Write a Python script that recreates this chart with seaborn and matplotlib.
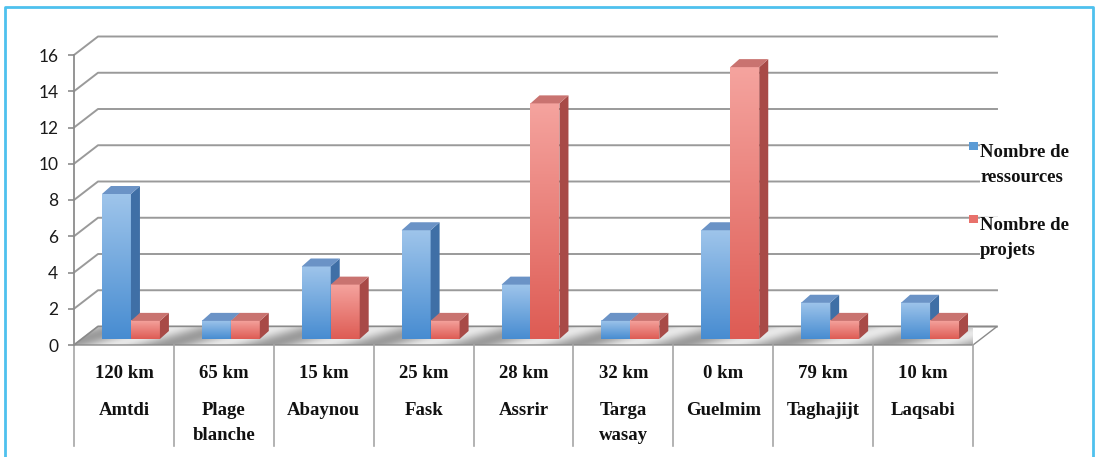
import numpy as np
import pandas as pd
import seaborn as sns
import matplotlib.pyplot as plt
from matplotlib.patches import Polygon, Rectangle
from matplotlib.lines import Line2D
from matplotlib.transforms import Affine2D, IdentityTransform, blended_transform_factory

# data
sites = ["Amtdi", "Plage\nblanche", "Abaynou", "Fask", "Assrir",
         "Targa\nwasay", "Guelmim", "Taghajijt", "Laqsabi"]
distances = ["120 km", "65 km", "15 km", "25 km", "28 km",
             "32 km", "0 km", "79 km", "10 km"]
ressources = [8, 1, 4, 6, 3, 1, 6, 2, 2]
projets = [1, 1, 3, 1, 13, 1, 15, 1, 1]
series = ["Nombre de\nressources", "Nombre de\nprojets"]

df = pd.DataFrame({
    "site": sites * 2,
    "serie": [series[0]] * len(sites) + [series[1]] * len(sites),
    "valeur": ressources + projets,
})

plt.rcParams["font.family"] = "Lato"
serif = "Liberation Serif"

W, H = 1098, 457
fig = plt.figure(figsize=(W / 100, H / 100), dpi=100)
ax = fig.add_axes([74 / W, (H - 345) / H, 899 / W, 290 / H])

sns.barplot(data=df, x="site", y="valeur", hue="serie", palette=["#5b9bd5", "#e8716b"],
            width=0.58, saturation=1, legend=False, errorbar=None, ax=ax)
ax.set_xlim(-0.5, 8.5)
ax.set_ylim(0, 16)
ax.patch.set_visible(False)
ax.set_xlabel("")
ax.set_ylabel("")
ax.set_xticks([])
ax.set_yticks(range(0, 17, 2))
ax.tick_params(axis="y", length=4.3, width=1.2, color="#8c8c8c", pad=7, labelsize=12.5, labelcolor="#1a1a1a")
for s in ["top", "right", "bottom"]:
    ax.spines[s].set_visible(False)
ax.spines["left"].set_color("#8c8c8c")
ax.spines["left"].set_linewidth(1.3)

idt = IdentityTransform()
grey = "#9a9a9a"
back = (24, 18.5)      # depth of the back wall, pixels
shift = (7, 6)         # bars sit in the middle of the depth
depth = (9, 8)         # depth of each bar

# back wall gridlines + diagonals
x_left, _ = ax.transData.transform((-0.5, 0))
x_right, _ = ax.transData.transform((8.5, 0))
for t in range(0, 17, 2):
    _, yt = ax.transData.transform((-0.5, t))
    ax.add_line(Line2D([x_left, x_left + back[0], x_right + back[0]],
                       [yt, yt + back[1], yt + back[1]],
                       transform=idt, color=grey, lw=1.4, zorder=0.5, clip_on=False))

# floor
_, y0 = ax.transData.transform((-0.5, 0))
floor_pts = [(x_left, y0), (x_right, y0), (x_right + back[0], y0 + back[1]), (x_left + back[0], y0 + back[1])]
floor = Polygon(floor_pts, closed=True, transform=idt, fc="none", ec="#8a8a8a", lw=1.0, zorder=1.2, clip_on=False)
gx = np.linspace(0, 1, 500)
gy = np.linspace(0, 1, 20)
GX, GY = np.meshgrid(gx, gy)
shade = 0.76 + 0.15 * np.cos(2 * np.pi * (GX * 9 + GY * 0.6))
floor_img = np.dstack([shade, shade, shade])
img = ax.imshow(floor_img, extent=(x_left, x_right + back[0], y0, y0 + back[1]), transform=idt,
                aspect="auto", zorder=1.1, interpolation="bilinear")
img.set_clip_path(floor)
ax.add_patch(floor)

# 3D look on the seaborn bars
looks = [
    {"top": (0.62, 0.77, 0.92), "bottom": (0.28, 0.55, 0.82), "side": "#3f6fa6", "lid": "#6b93c6"},
    {"top": (0.96, 0.64, 0.62), "bottom": (0.87, 0.36, 0.33), "side": "#a84a47", "lid": "#c97370"},
]
bars = ax.patches[:2 * len(sites)]
for i, p in enumerate(bars):
    look = looks[i // len(sites)]
    z = 3 + i // len(sites)
    x0, w, h = p.get_x(), p.get_width(), p.get_height()
    tr = ax.transData + Affine2D().translate(*shift)
    p.set_transform(tr)
    p.set_zorder(z)
    p.set_clip_on(False)
    p.set_edgecolor("none")
    grad = np.linspace(look["top"], look["bottom"], 64)[:, None, :]
    ax.imshow(grad, extent=(x0, x0 + w, 0, h), transform=tr, aspect="auto",
              zorder=z + 0.05, clip_on=False, interpolation="bilinear")
    xl, yb = tr.transform((x0, 0))
    xr, yt = tr.transform((x0 + w, h))
    dx, dy = depth
    ax.add_patch(Polygon([(xr, yb), (xr + dx, yb + dy), (xr + dx, yt + dy), (xr, yt)], closed=True,
                         transform=idt, fc=look["side"], ec="none", zorder=z + 0.1, clip_on=False))
    ax.add_patch(Polygon([(xl, yt), (xr, yt), (xr + dx, yt + dy), (xl + dx, yt + dy)], closed=True,
                         transform=idt, fc=look["lid"], ec="none", zorder=z + 0.1, clip_on=False))

ax.set_xlim(-0.5, 8.5)
ax.set_ylim(0, 16)

# category table below the floor
for b in np.arange(-0.5, len(sites), 1.0):
    xb, _ = ax.transData.transform((b, 0))
    ax.add_line(Line2D([xb, xb], [H - 345, H - 446], transform=idt, color="#a6a6a6",
                       lw=1.2, clip_on=False))
bt = blended_transform_factory(ax.transData, idt)
for i, (d, s) in enumerate(zip(distances, sites)):
    ax.text(i, H - 378, d, transform=bt, ha="center", va="baseline", fontsize=13.5,
            fontweight="bold", family=serif, color="#111111", clip_on=False)
    ax.text(i, H - 402, s, transform=bt, ha="center", va="top", fontsize=13.5, linespacing=1.63,
            fontweight="bold", family=serif, color="#111111", clip_on=False)

# legend
leg_colors = ["#5b9bd5", "#e8716b"]
for lab, col, ytop in zip(series, leg_colors, [142, 215]):
    fig.add_artist(Rectangle((969, H - ytop - 8), 9, 8, transform=idt, fc=col, ec="none"))
    fig.text(980, H - ytop - 2, lab, transform=idt, ha="left", va="top", fontsize=13.5,
             linespacing=1.63, fontweight="bold", family=serif, color="#111111",
             bbox=dict(fc="white", ec="none", pad=0))

# light blue frame
fig.add_artist(Line2D([5, 5, 1093, 1093], [-5, H - 7, H - 7, -5], transform=idt,
                      color="#4ec1ee", lw=2))

fig.savefig("out.png", dpi=100)
